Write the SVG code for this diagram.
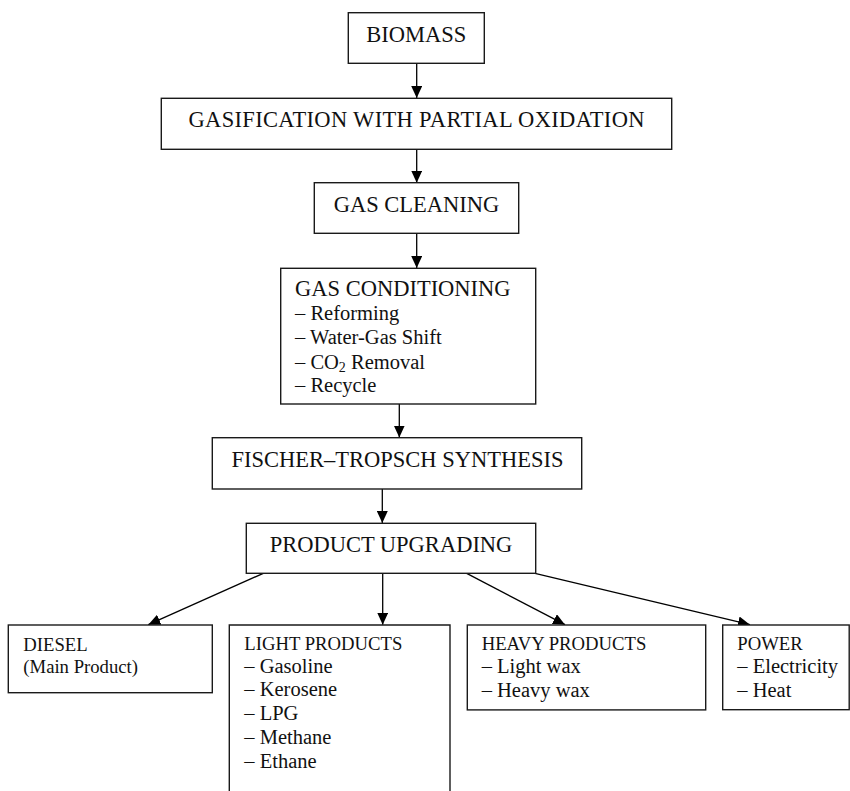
<svg xmlns="http://www.w3.org/2000/svg" width="850" height="791" viewBox="0 0 850 791">
  <style>
    .box { fill: #fff; stroke: #1a1a1a; stroke-width: 1.4; }
    .open { fill: none; stroke: #1a1a1a; stroke-width: 1.4; }
    .edge { fill: none; stroke: #000; stroke-width: 1.3; marker-end: url(#arrow); }
    text { font-family: "Liberation Serif", "Times New Roman", serif; fill: #111; }
    .title { font-size: 22.5px; }
    .mid { text-anchor: middle; }
    .item { font-size: 20.5px; }
    .small { font-size: 18.7px; }
  </style>
  <defs>
    <marker id="arrow" markerUnits="userSpaceOnUse" markerWidth="12" markerHeight="11" refX="12" refY="5.5" orient="auto">
      <path d="M0,0 L12,5.5 L0,11 z" fill="#000"/>
    </marker>
  </defs>

  <!-- connectors -->
  <g id="connectors">
    <line class="edge" x1="416.7" y1="63.3" x2="416.7" y2="98"/>
    <line class="edge" x1="416.7" y1="149.3" x2="416.7" y2="182.7"/>
    <line class="edge" x1="416.7" y1="233.3" x2="416.7" y2="268"/>
    <line class="edge" x1="399.3" y1="404" x2="399.3" y2="437.5"/>
    <line class="edge" x1="382.3" y1="489" x2="382.3" y2="523"/>
    <line class="edge" x1="263.3" y1="573.3" x2="148.3" y2="624.7"/>
    <line class="edge" x1="382.7" y1="573.3" x2="382.7" y2="624.7"/>
    <line class="edge" x1="466.7" y1="573.3" x2="565" y2="624.7"/>
    <line class="edge" x1="535" y1="573.3" x2="750" y2="624.7"/>
  </g>

  <g id="biomass">
    <rect class="box" x="348.3" y="12.7" width="136" height="50.6"/>
    <text class="title mid" x="416.3" y="41.7">BIOMASS</text>
  </g>

  <g id="gasification">
    <rect class="box" x="161.3" y="98.3" width="510.4" height="51"/>
    <text class="title mid" x="416.5" y="126.7" textLength="456" lengthAdjust="spacing">GASIFICATION WITH PARTIAL OXIDATION</text>
  </g>

  <g id="gas-cleaning">
    <rect class="box" x="314.3" y="182.7" width="204.4" height="50.6"/>
    <text class="title mid" x="416.5" y="212.3">GAS CLEANING</text>
  </g>

  <g id="gas-conditioning">
    <rect class="box" x="280.7" y="268.3" width="255" height="135.7"/>
    <text class="title" x="295" y="295.5">GAS CONDITIONING</text>
    <text class="item" x="295" y="320">– Reforming</text>
    <text class="item" x="295" y="344.3">– Water-Gas Shift</text>
    <text class="item" x="295" y="368.5">– CO<tspan font-size="14" dy="3">2</tspan><tspan dy="-3"> Removal</tspan></text>
    <text class="item" x="295" y="392">– Recycle</text>
  </g>

  <g id="fischer-tropsch">
    <rect class="box" x="212.3" y="437.7" width="369.4" height="51.3"/>
    <text class="title mid" x="397.5" y="467.3">FISCHER–TROPSCH SYNTHESIS</text>
  </g>

  <g id="product-upgrading">
    <rect class="box" x="246.3" y="523.3" width="289.4" height="50"/>
    <text class="title mid" x="391" y="551.7">PRODUCT UPGRADING</text>
  </g>

  <g id="diesel">
    <rect class="box" x="8.3" y="625" width="204" height="67.7"/>
    <text class="small" x="23.3" y="650.5">DIESEL</text>
    <text class="small" x="23.3" y="673">(Main Product)</text>
  </g>

  <g id="light-products">
    <path class="open" d="M229.3,800 V625 H450 V800"/>
    <text class="small" x="244.3" y="650.3">LIGHT PRODUCTS</text>
    <text class="item" x="244.3" y="672.9">– Gasoline</text>
    <text class="item" x="244.3" y="696.4">– Kerosene</text>
    <text class="item" x="244.3" y="720.1">– LPG</text>
    <text class="item" x="244.3" y="744.3">– Methane</text>
    <text class="item" x="244.3" y="768.3">– Ethane</text>
  </g>

  <g id="heavy-products">
    <rect class="box" x="467.3" y="625" width="238.4" height="84.9"/>
    <text class="small" x="481.7" y="650.3">HEAVY PRODUCTS</text>
    <text class="item" x="481.7" y="672.9">– Light wax</text>
    <text class="item" x="481.7" y="696.7">– Heavy wax</text>
  </g>

  <g id="power">
    <rect class="box" x="722.7" y="625" width="126.5" height="84.7"/>
    <text class="small" x="737.3" y="650.3">POWER</text>
    <text class="item" x="737.3" y="672.9">– Electricity</text>
    <text class="item" x="737.3" y="696.7">– Heat</text>
  </g>
</svg>
